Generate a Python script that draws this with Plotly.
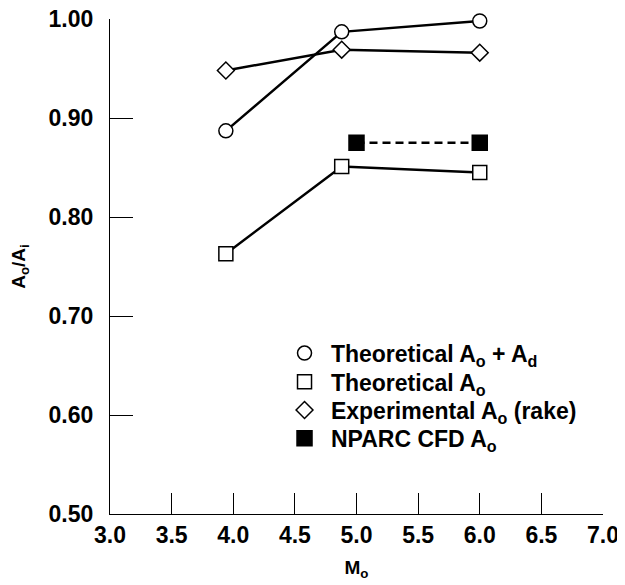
import plotly.graph_objects as go

# Data
mach_theory = [3.94, 4.88, 6.0]
theo_ao_ad = [0.887, 0.987, 0.998]
theo_ao = [0.763, 0.851, 0.845]
exp_ao_rake = [0.948, 0.969, 0.966]
mach_cfd = [5.0, 6.0]
cfd_ao = [0.875, 0.875]

series = [
    ("Theoretical A<sub>o</sub> + A<sub>d</sub>", mach_theory, theo_ao_ad, "circle", "white", 14, "solid"),
    ("Theoretical A<sub>o</sub>", mach_theory, theo_ao, "square", "white", 14, "solid"),
    ("Experimental A<sub>o</sub> (rake)", mach_theory, exp_ao_rake, "diamond", "white", 13, "solid"),
    ("NPARC CFD A<sub>o</sub>", mach_cfd, cfd_ao, "square", "black", 15, "8px,5px"),
]
legend_ids = ["legend", "legend2", "legend3", "legend4"]
legend_rows = [0.325, 0.267, 0.210, 0.153]

FONT = "Liberation Sans, Arial, Helvetica, sans-serif"

fig = go.Figure()
# lines first (no legend)
for name, xs, ys, sym, fill, size, dash in series:
    fig.add_trace(go.Scatter(
        x=xs, y=ys, mode="lines", showlegend=False, hoverinfo="skip",
        line=dict(color="black", width=2.5, dash=dash), cliponaxis=False,
    ))
# markers on top (legend)
for (name, xs, ys, sym, fill, size, dash), lg in zip(series, legend_ids):
    fig.add_trace(go.Scatter(
        x=xs, y=ys, mode="markers", name="\u00a0" + name, legend=lg,
        marker=dict(symbol=sym, size=size, color=fill,
                    line=dict(color="black", width=1.5)),
        cliponaxis=False,
    ))

legend_common = dict(
    x=0.354, xanchor="left", yanchor="middle",
    bgcolor="rgba(0,0,0,0)", borderwidth=0,
    font=dict(family=FONT, size=23, color="black", weight="bold"),
    itemwidth=30,
)
layout_legends = {}
for lg, yr in zip(legend_ids, legend_rows):
    layout_legends[lg] = dict(legend_common, y=yr)

fig.update_layout(
    width=617, height=577,
    margin=dict(l=102, r=22, t=11, b=71),
    paper_bgcolor="white", plot_bgcolor="white",
    font=dict(family=FONT, size=23, color="black", weight="bold"),
    **layout_legends,
)
fig.update_xaxes(
    range=[3, 7], tickmode="array",
    tickvals=[3.0, 3.5, 4.0, 4.5, 5.0, 5.5, 6.0, 6.5, 7.0],
    ticktext=["3.0", "3.5", "4.0", "4.5", "5.0", "5.5", "6.0", "6.5", "7.0"],
    ticks="inside", ticklen=21, tickwidth=1.3, tickcolor="black",
    showline=True, linecolor="black", linewidth=1.3,
    showgrid=False, zeroline=False, automargin=False,
    ticklabeloverflow="allow",
    tickfont=dict(size=23, weight="bold"),
    title=dict(text="M<sub>o</sub>", font=dict(size=19, weight="bold"), standoff=13),
)
fig.update_yaxes(
    range=[0.5, 1.0], tickmode="array",
    tickvals=[0.5, 0.6, 0.7, 0.8, 0.9, 1.0],
    ticktext=["0.50", "0.60", "0.70", "0.80", "0.90", "1.00"],
    ticks="inside", ticklen=23, tickwidth=1.3, tickcolor="black",
    showline=True, linecolor="black", linewidth=1.3,
    showgrid=False, zeroline=False, automargin=False,
    ticklabelstandoff=11, ticklabeloverflow="allow",
    tickfont=dict(size=23, weight="bold"),
    title=dict(text="A<sub>o</sub>/A<sub>i</sub>", font=dict(size=19, weight="bold"), standoff=23),
)

fig.write_html("out.html")
